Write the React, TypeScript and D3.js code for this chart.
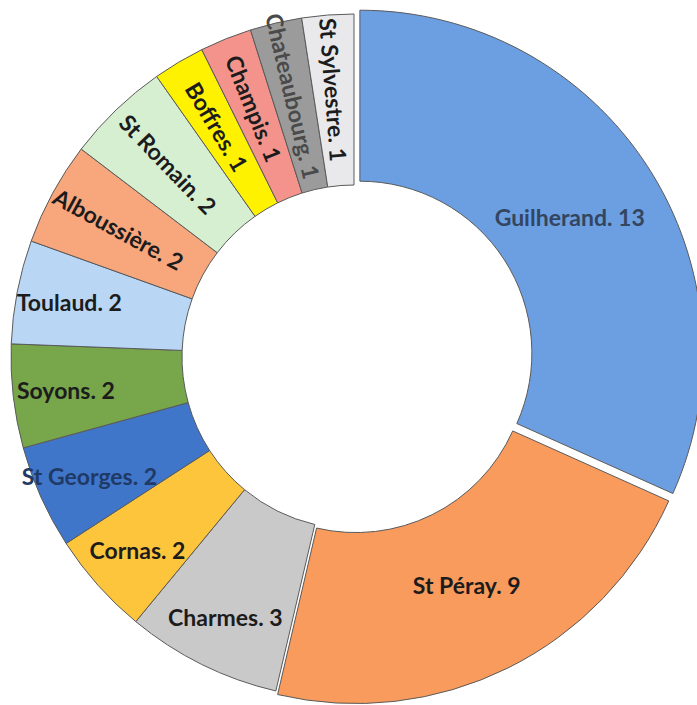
import React from "react";
import * as d3 from "d3";

const communes = [
  "Guilherand", "St Péray", "Charmes", "Cornas", "St Georges", "Soyons", "Toulaud",
  "Alboussière", "St Romain", "Boffres", "Champis", "Chateaubourg", "St Sylvestre",
];
const counts = [13, 9, 3, 2, 2, 2, 2, 2, 2, 1, 1, 1, 1];

const colors = [
  "#6b9fe2", "#f89b5c", "#c9c9c9", "#fdc53c", "#3f76c9", "#77a64b", "#b9d7f5",
  "#f8a67c", "#d7efd1", "#fff200", "#f4938b", "#9b9b9b", "#e9e9ec",
];
const textColors = [
  "#34465f", "#1c1c1c", "#1c1c1c", "#1c1c1c", "#1f3a66", "#1c1c1c", "#1c1c1c",
  "#1c1c1c", "#1c1c1c", "#1c1c1c", "#1c1c1c", "#4a4a4a", "#1c1c1c",
];

const width = 697;
const height = 705;
const cx = 354;
const cy = 357;
const outerR = 343;
const innerR = 172;

const App = () => {
  const data = communes.map((name, i) => ({ name, value: counts[i], i }));
  const pie = d3.pie<any>().sort(null).value((d) => d.value).startAngle(0).endAngle(2 * Math.PI);
  const arcs = pie(data);
  const arc = d3.arc<any>().innerRadius(innerR).outerRadius(outerR);

  // big slices are pulled out a little
  const explode = (v: number) => (v >= 13 ? 7 : v >= 9 ? 4 : 0);

  return (
    <svg
      width={width}
      height={height}
      style={{ position: "absolute", left: 0, top: 0, background: "#fff" }}
    >
      <g transform={`translate(${cx},${cy})`}>
        {arcs.map((a) => {
          const mid = (a.startAngle + a.endAngle) / 2;
          const off = explode(a.data.value);
          const dx = off * Math.sin(mid);
          const dy = -off * Math.cos(mid);
          return (
            <path
              key={a.data.name}
              d={arc(a) as string}
              transform={`translate(${dx},${dy})`}
              fill={colors[a.data.i]}
              stroke="#5a5a5a"
              strokeWidth={1}
            />
          );
        })}
        {arcs.map((a) => {
          const mid = (a.startAngle + a.endAngle) / 2;
          const deg = (mid * 180) / Math.PI;
          const rotated = deg > 285;
          const r = a.data.value >= 9 ? 250 : rotated ? 268 : 290;
          const off = explode(a.data.value);
          const x = (r + off) * Math.sin(mid);
          const y = -(r + off) * Math.cos(mid);
          const rot = rotated ? deg - 270 : 0;
          return (
            <text
              key={"l" + a.data.name}
              transform={`translate(${x},${y}) rotate(${rot})`}
              textAnchor="middle"
              dominantBaseline="central"
              fontFamily="Lato, 'Open Sans', sans-serif"
              fontWeight={700}
              fontSize={23}
              fill={textColors[a.data.i]}
            >
              {`${a.data.name}. ${a.data.value}`}
            </text>
          );
        })}
      </g>
    </svg>
  );
};

export default App;
